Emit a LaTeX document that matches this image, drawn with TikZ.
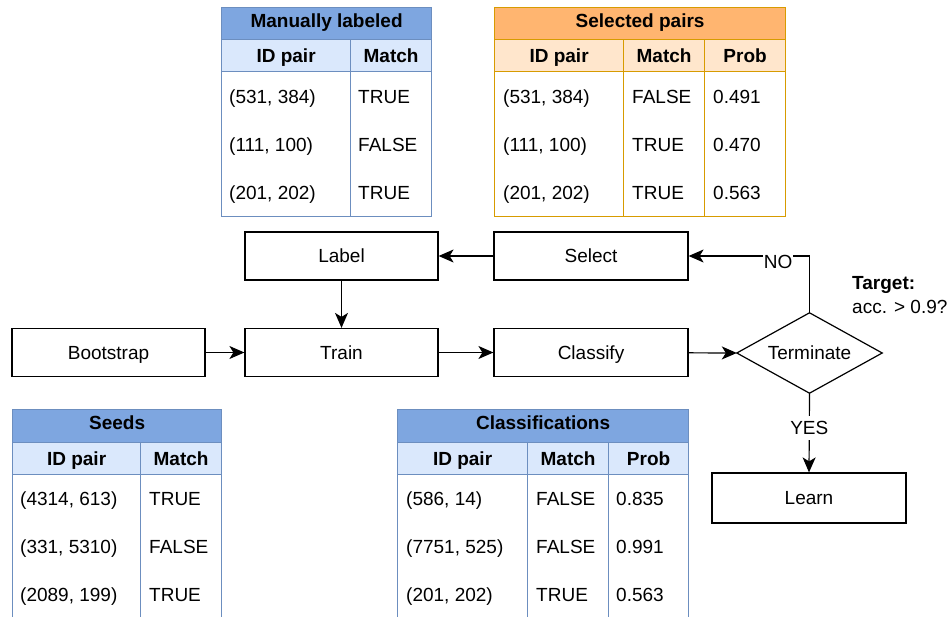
\documentclass[tikz,border=0pt]{standalone}
\usepackage{fontspec}
\setmainfont{Liberation Sans}
\usetikzlibrary{arrows.meta}

\definecolor{blueHead}{HTML}{7EA6E0}
\definecolor{blueSub}{HTML}{DAE8FC}
\definecolor{blueLine}{HTML}{6C8EBF}
\definecolor{orHead}{HTML}{FFB570}
\definecolor{orSub}{HTML}{FFE6CC}
\definecolor{orLine}{HTML}{D79B00}

\tikzset{
  every node/.style={font=\fontsize{19}{22}\selectfont, inner sep=0pt,
                     text height=17.4pt, text depth=3.8pt},
  boldtxt/.style={font=\fontsize{19}{22}\selectfont\bfseries},
  titletxt/.style={boldtxt, text height=14.4pt, text depth=6.8pt},
  stepbox/.style={draw, line width=1.2pt, minimum width=195pt, minimum height=48pt},
  flow/.style={line width=1.2pt, -{Stealth[length=15pt,width=13pt,inset=4pt]}},
  cell/.style={draw, line width=1.2pt, anchor=north west, minimum height=#1},
  celltxt/.style={anchor=west},
  bluetab/.style={draw=blueLine},
  orangetab/.style={draw=orLine},
  edgelabel/.style={fill=white, inner sep=1pt}
}

\begin{document}
\begin{tikzpicture}[x=1pt, y=-1pt]
\clip (0,0) rectangle (947,617);
\fill[white] (0,0) rectangle (947,617);

% ---------- Manually labeled ----------
\node[cell=32pt, bluetab, fill=blueHead, minimum width=210pt, titletxt] (ml-title) at (221,7) {Manually labeled};
\node[cell=32pt, bluetab, fill=blueSub, minimum width=129pt, boldtxt] (ml-h1) at (221,39) {ID pair};
\node[cell=32pt, bluetab, fill=blueSub, minimum width=81pt, boldtxt] (ml-h2) at (350,39) {Match};
\node[cell=145pt, bluetab, fill=white, minimum width=129pt] (ml-b1) at (221,71) {};
\node[cell=145pt, bluetab, fill=white, minimum width=81pt] (ml-b2) at (350,71) {};
\node[celltxt] (ml-r1a) at (229,97) {(531, 384)};
\node[celltxt] (ml-r2a) at (229,145) {(111, 100)};
\node[celltxt] (ml-r3a) at (229,193) {(201, 202)};
\node[celltxt] (ml-r1b) at (358,97) {TRUE};
\node[celltxt] (ml-r2b) at (358,145) {FALSE};
\node[celltxt] (ml-r3b) at (358,193) {TRUE};

% ---------- Selected pairs ----------
\node[cell=32pt, orangetab, fill=orHead, minimum width=291pt, titletxt] (sp-title) at (494,7) {Selected pairs};
\node[cell=32pt, orangetab, fill=orSub, minimum width=129pt, boldtxt] (sp-h1) at (494,39) {ID pair};
\node[cell=32pt, orangetab, fill=orSub, minimum width=81pt, boldtxt] (sp-h2) at (623,39) {Match};
\node[cell=32pt, orangetab, fill=orSub, minimum width=81pt, boldtxt] (sp-h3) at (704,39) {Prob};
\node[cell=145pt, orangetab, fill=white, minimum width=129pt] (sp-b1) at (494,71) {};
\node[cell=145pt, orangetab, fill=white, minimum width=81pt] (sp-b2) at (623,71) {};
\node[cell=145pt, orangetab, fill=white, minimum width=81pt] (sp-b3) at (704,71) {};
\node[celltxt] (sp-r1a) at (503,97) {(531, 384)};
\node[celltxt] (sp-r2a) at (503,145) {(111, 100)};
\node[celltxt] (sp-r3a) at (503,193) {(201, 202)};
\node[celltxt] (sp-r1b) at (632,97) {FALSE};
\node[celltxt] (sp-r2b) at (632,145) {TRUE};
\node[celltxt] (sp-r3b) at (632,193) {TRUE};
\node[celltxt] (sp-r1c) at (713,97) {0.491};
\node[celltxt] (sp-r2c) at (713,145) {0.470};
\node[celltxt] (sp-r3c) at (713,193) {0.563};

% ---------- Seeds ----------
\node[cell=33pt, bluetab, fill=blueHead, minimum width=209pt, titletxt] (sd-title) at (12,409) {Seeds};
\node[cell=32pt, bluetab, fill=blueSub, minimum width=128pt, boldtxt] (sd-h1) at (12,442) {ID pair};
\node[cell=32pt, bluetab, fill=blueSub, minimum width=81pt, boldtxt] (sd-h2) at (140,442) {Match};
\node[cell=180pt, bluetab, fill=white, minimum width=128pt] (sd-b1) at (12,474) {};
\node[cell=180pt, bluetab, fill=white, minimum width=81pt] (sd-b2) at (140,474) {};
\node[celltxt] (sd-r1a) at (20,499) {(4314, 613)};
\node[celltxt] (sd-r2a) at (20,547) {(331, 5310)};
\node[celltxt] (sd-r3a) at (20,595) {(2089, 199)};
\node[celltxt] (sd-r1b) at (149,499) {TRUE};
\node[celltxt] (sd-r2b) at (149,547) {FALSE};
\node[celltxt] (sd-r3b) at (149,595) {TRUE};

% ---------- Classifications ----------
\node[cell=33pt, bluetab, fill=blueHead, minimum width=291pt, titletxt] (cl-title) at (397,409) {Classifications};
\node[cell=32pt, bluetab, fill=blueSub, minimum width=130pt, boldtxt] (cl-h1) at (397,442) {ID pair};
\node[cell=32pt, bluetab, fill=blueSub, minimum width=81pt, boldtxt] (cl-h2) at (527,442) {Match};
\node[cell=32pt, bluetab, fill=blueSub, minimum width=80pt, boldtxt] (cl-h3) at (608,442) {Prob};
\node[cell=180pt, bluetab, fill=white, minimum width=130pt] (cl-b1) at (397,474) {};
\node[cell=180pt, bluetab, fill=white, minimum width=81pt] (cl-b2) at (527,474) {};
\node[cell=180pt, bluetab, fill=white, minimum width=80pt] (cl-b3) at (608,474) {};
\node[celltxt] (cl-r1a) at (406,499) {(586, 14)};
\node[celltxt] (cl-r2a) at (406,547) {(7751, 525)};
\node[celltxt] (cl-r3a) at (406,595) {(201, 202)};
\node[celltxt] (cl-r1b) at (536,499) {FALSE};
\node[celltxt] (cl-r2b) at (536,547) {FALSE};
\node[celltxt] (cl-r3b) at (536,595) {TRUE};
\node[celltxt] (cl-r1c) at (616,499) {0.835};
\node[celltxt] (cl-r2c) at (616,547) {0.991};
\node[celltxt] (cl-r3c) at (616,595) {0.563};

% ---------- Process steps ----------
\node[stepbox, minimum width=193pt] (label) at (341.5,256) {Label};
\node[stepbox, minimum width=194pt] (select) at (591,256) {Select};
\node[stepbox, minimum width=193pt] (bootstrap) at (108.5,352.5) {Bootstrap};
\node[stepbox, minimum width=193pt] (train) at (341.5,352.5) {Train};
\node[stepbox, minimum width=194pt] (classify) at (591,352.5) {Classify};
% decision: the node spans the diamond's extent, its outline joins the four anchors
\node[minimum width=145pt, minimum height=80pt] (term) at (809.5,353) {Terminate};
\draw[line width=1.2pt, line join=miter] (term.north) -- (term.east) -- (term.south) -- (term.west) -- cycle;
\node[stepbox, minimum width=194pt, minimum height=50pt] (learn) at (809,498) {Learn};

\node[anchor=west, boldtxt] (target) at (852,283) {Target:};
\node[anchor=west] (cond) at (852,307) {acc. > 0.9?};

% ---------- Connectors ----------
\draw[flow] (select) -- (label);
\draw[flow] (label) -- (train);
\draw[flow] (bootstrap) -- (train);
\draw[flow] (train) -- (classify);
\draw[flow] (classify) -- (term.west);
\draw[flow] (term.north) |- node[pos=0.63, edgelabel, yshift=-6pt] {NO} (select.east);
\draw[flow] (term.south) -- node[pos=0.44, edgelabel] {YES} (learn.north);
\end{tikzpicture}
\end{document}
